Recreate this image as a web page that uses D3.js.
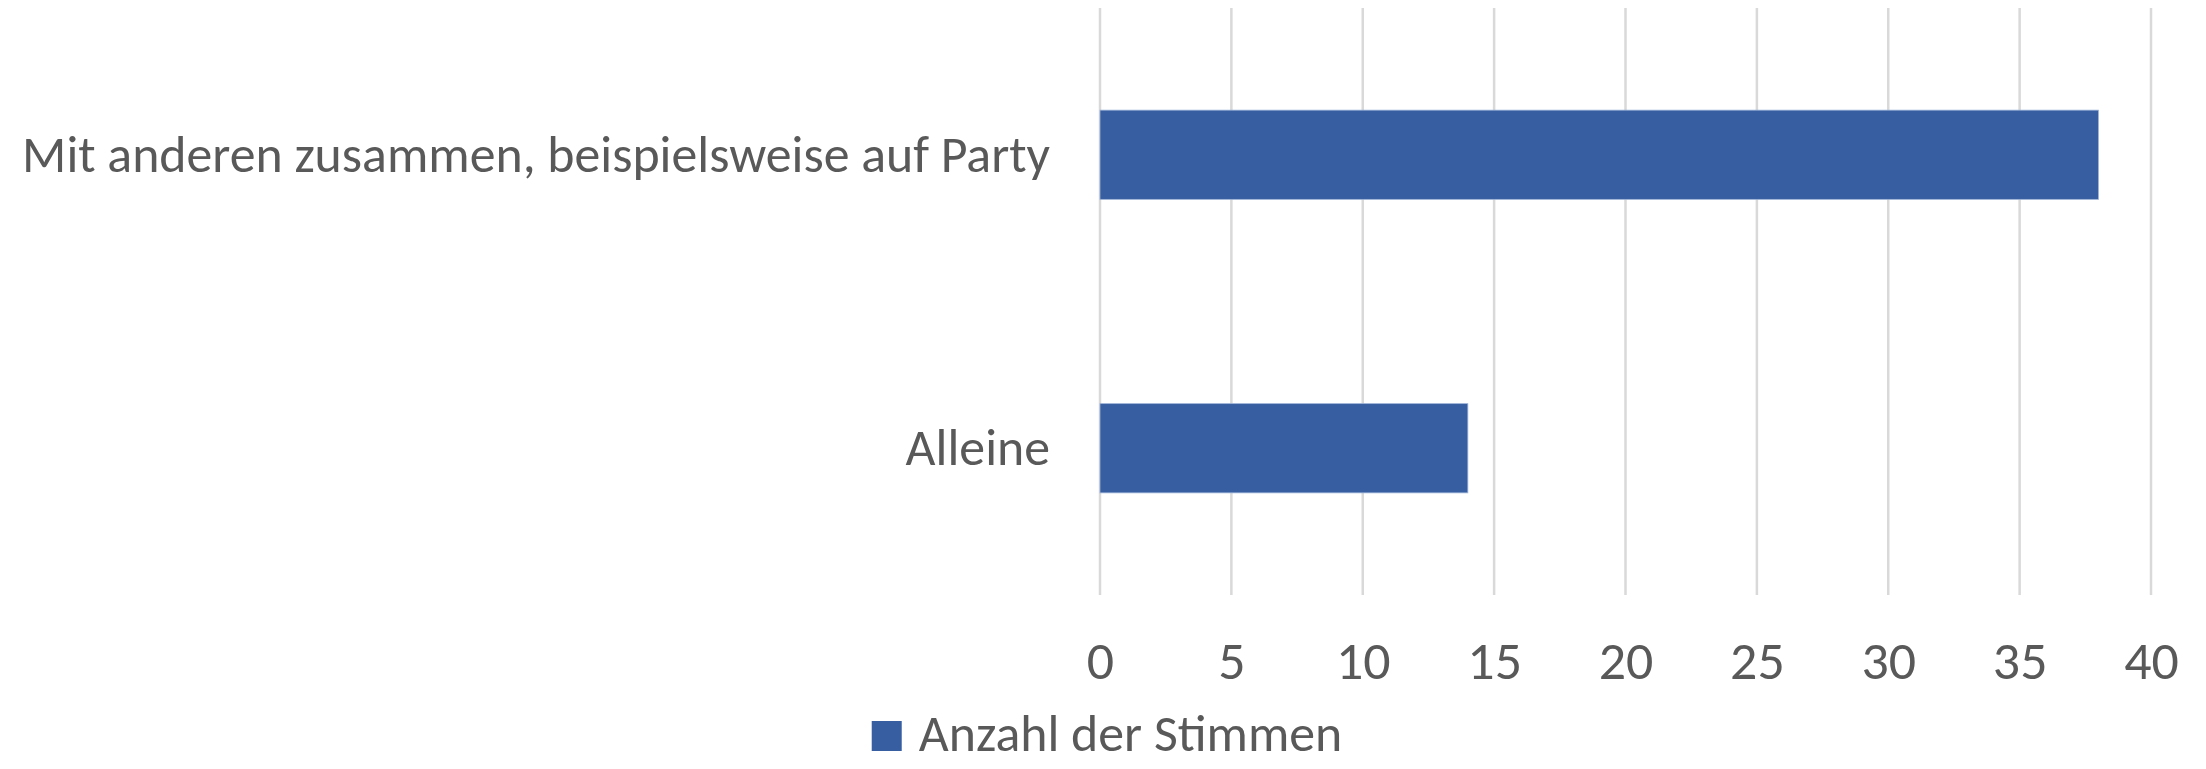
<!DOCTYPE html>
<html>
<head>
<meta charset="utf-8">
<script src="https://cdn.jsdelivr.net/npm/d3@7"></script>
<style>
  html, body { margin: 0; padding: 0; background: #fff; }
  svg { display: block; }
  text { font-family: Carlito, Calibri, Lato, "Open Sans", sans-serif; fill: #595959; }
</style>
</head>
<body>
<svg id="chart"></svg>
<script>
const categories = ['Mit anderen zusammen, beispielsweise auf Party', 'Alleine'];
const values = [38, 14];
const seriesName = 'Anzahl der Stimmen';
const xTicks = [0, 5, 10, 15, 20, 25, 30, 35, 40];

const width = 2206;
const height = 769;
const margin = { top: 8, right: 55, bottom: 174, left: 1100 };
const barColor = '#365EA0';

const svg = d3.select('#chart')
  .attr('width', width)
  .attr('height', height);

const x = d3.scaleLinear()
  .domain([0, 40])
  .range([margin.left, width - margin.right]);

const y = d3.scaleBand()
  .domain(categories)
  .range([margin.top, height - margin.bottom])
  .paddingInner(0.696)
  .paddingOuter(0.348);

// fit font size so the long label ends at the same width as the original
const probe = svg.append('text')
  .attr('font-size', 48)
  .text(categories[0]);
const probeLen = probe.node().getComputedTextLength();
probe.remove();
const fontSize = Math.min(54, 48 * 1028 / probeLen);

// gridlines
svg.append('g')
  .attr('class', 'grid')
  .selectAll('line')
  .data(xTicks)
  .join('line')
    .attr('x1', d => x(d))
    .attr('x2', d => x(d))
    .attr('y1', margin.top)
    .attr('y2', height - margin.bottom)
    .attr('stroke', '#d9d9d9')
    .attr('stroke-width', 2.5);

// bars
svg.append('g')
  .selectAll('rect')
  .data(values)
  .join('rect')
    .attr('x', x(0))
    .attr('y', (d, i) => y(categories[i]))
    .attr('width', d => x(d) - x(0))
    .attr('height', y.bandwidth())
    .attr('fill', barColor)
    .attr('stroke', '#9db3d8')
    .attr('stroke-width', 0.8);

// x axis labels
const xAxis = d3.axisBottom(x)
  .tickValues(xTicks)
  .tickSize(0)
  .tickPadding(0);

svg.append('g')
  .attr('transform', `translate(0, ${height - margin.bottom})`)
  .call(xAxis)
  .call(g => g.select('.domain').remove())
  .call(g => g.selectAll('text')
    .attr('font-size', fontSize * 1.04)
    .attr('font-family', null)
    .attr('fill', '#595959')
    .attr('dy', null)
    .attr('y', 84));

// category labels
svg.append('g')
  .selectAll('text')
  .data(categories)
  .join('text')
    .attr('x', margin.left - 50)
    .attr('y', d => y(d) + y.bandwidth() / 2)
    .attr('dy', '0.33em')
    .attr('text-anchor', 'end')
    .attr('font-size', fontSize)
    .text(d => d);

// legend
const legend = svg.append('g');
const legendItem = legend.append('g');
legendItem.append('rect')
  .attr('x', 0)
  .attr('y', -30)
  .attr('width', 30)
  .attr('height', 30)
  .attr('fill', barColor);
legendItem.append('text')
  .attr('x', 47)
  .attr('y', 0)
  .attr('font-size', fontSize)
  .text(seriesName);
const lb = legendItem.node().getBBox();
legendItem.attr('transform', `translate(${(width - lb.width) / 2 + 4}, 751)`);
</script>
</body>
</html>
